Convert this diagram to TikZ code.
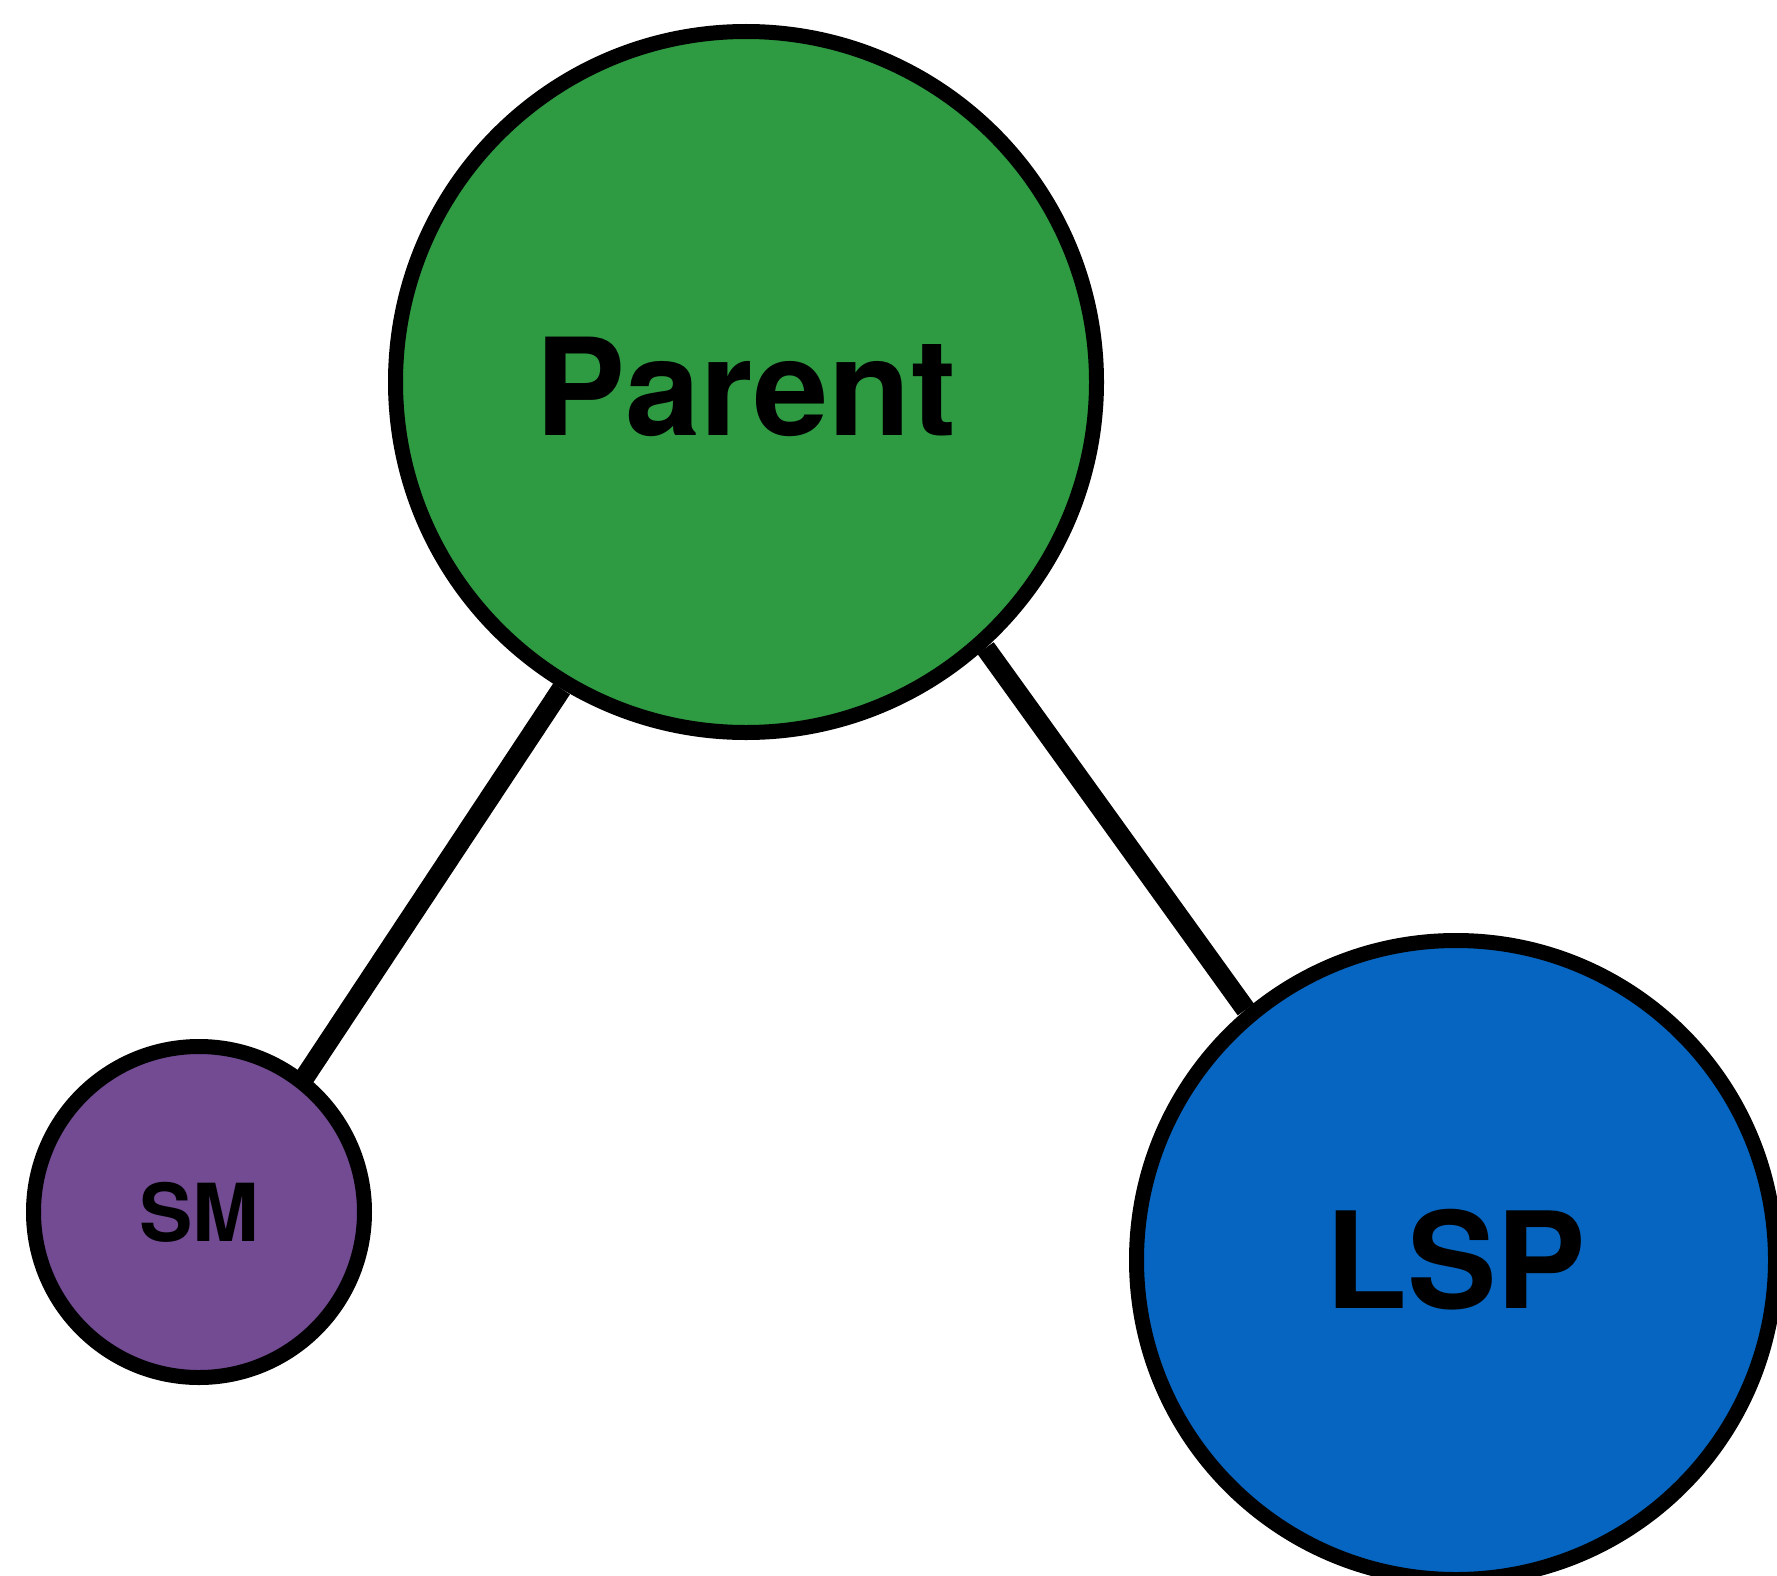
\documentclass[tikz,border=0pt]{standalone}
\usepackage{fontspec}
\setmainfont{TeX Gyre Heros}
\usetikzlibrary{shadows.blur}
\definecolor{parentgreen}{HTML}{2E9A41}
\definecolor{smpurple}{HTML}{724B93}
\definecolor{lspblue}{HTML}{0565C0}
\begin{document}
\begin{tikzpicture}[x=1pt,y=1pt,
  bubble/.style={circle, draw=black, line width=15pt, inner sep=0pt,
    text=black,
    blur shadow={shadow xshift=2pt, shadow yshift=-2.5pt,
      shadow blur radius=3pt, shadow opacity=40}},
  link/.style={draw=black, line width=20pt, line cap=butt}]
  \useasboundingbox (0,0) rectangle (1777,-1576);
  \fill[white] (0,0) rectangle (1777,-1576);

  % the three entities
  \node[bubble, fill=parentgreen, minimum size=701pt,
    text height=106pt, text depth=0pt,
    font=\fontsize{135}{140}\selectfont\bfseries] (parent) at (746,-382) {Parent};
  \node[bubble, fill=smpurple, minimum size=331pt,
    font=\fontsize{80}{84}\selectfont\bfseries] (sm) at (199,-1212) {SM};
  \node[bubble, fill=lspblue, minimum size=639pt,
    font=\fontsize{134}{140}\selectfont\bfseries] (lsp) at (1456,-1260) {LSP};

  % where the left link stops, just inside the ring of SM
  \coordinate (smtip) at ([shift={(51.6:161pt)}]sm.center);

  % links from the parent
  \draw[link] (parent.-121.9) -- (smtip);
  \draw[link] (parent.-48.5) -- (lsp.130.4);
\end{tikzpicture}
\end{document}
